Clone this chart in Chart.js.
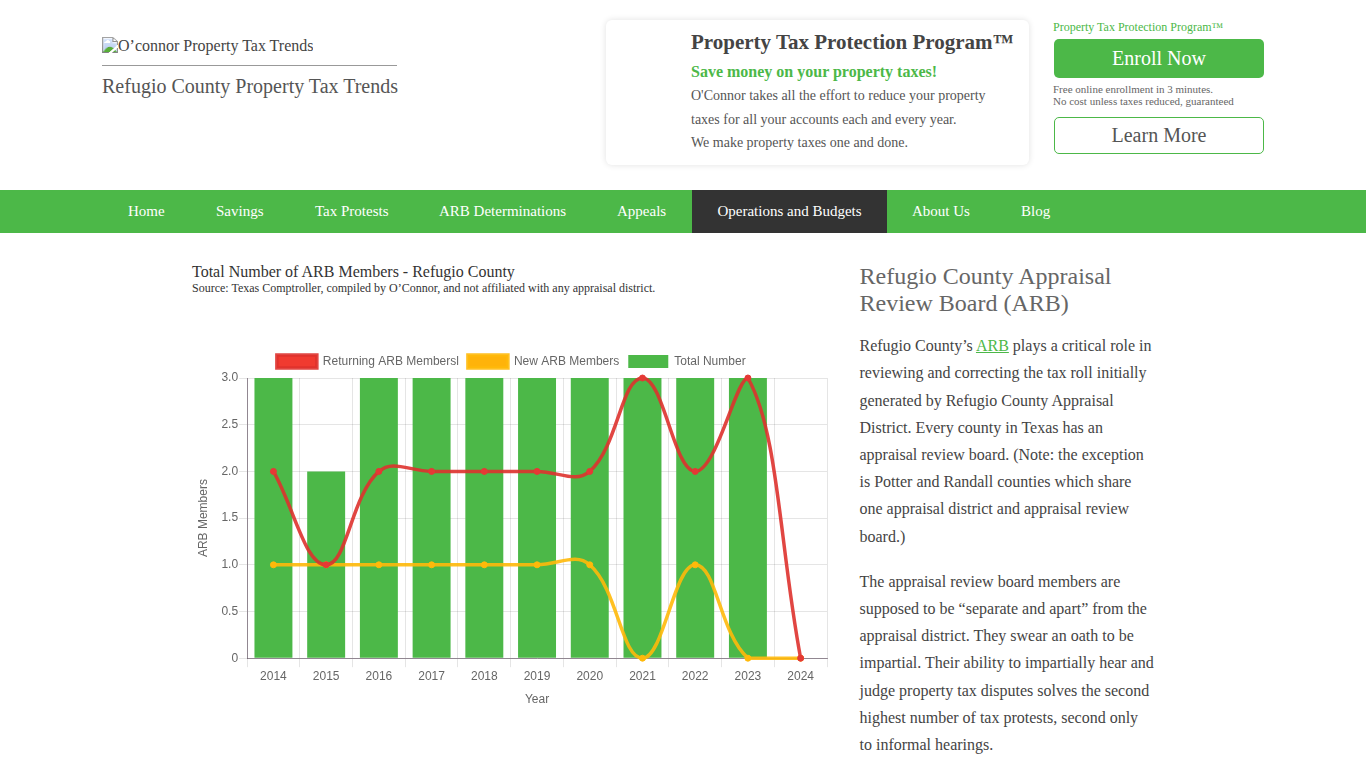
<!DOCTYPE html>
<html>
<head>
<meta charset="utf-8">
<title>Refugio County Property Tax Trends</title>
<script src="https://cdn.jsdelivr.net/npm/chart.js@4"></script>
<style>
  html, body { margin: 0; padding: 0; background: #fff; overflow: hidden; height: 768px; }
  body { font-family: "Liberation Serif", serif; color: #444; position: relative; width: 1366px; }
  .t { position: absolute; white-space: nowrap; }
  a { color: #4cb848; }
  #nav { position: absolute; left: 0; top: 190px; width: 1366px; height: 43px; background: #4cb848; }
  #nav span { position: absolute; top: 0; line-height: 43px; font-size: 15px; color: #fff; white-space: nowrap; }
  #nav .active { background: #333; left: 692px; width: 195px; text-align: center; }
  #promo { position: absolute; left: 606px; top: 20px; width: 423px; height: 145px; border-radius: 6px; box-shadow: 0 0 6px rgba(0,0,0,.12); background: #fff; }
  .btn { position: absolute; left: 1054px; width: 210px; border-radius: 5px; text-align: center; font-size: 20px; box-sizing: border-box; }
  #chartWrap { position: absolute; left: 192px; top: 345px; width: 640px; height: 366px; }
</style>
</head>
<body>
  <img class="t" style="left:102px;top:37px;font-size:16px;color:#444" src="logo.png" alt="O’connor Property Tax Trends">
  <div style="position:absolute;left:102px;top:65px;width:295px;height:1px;background:#999"></div>
  <div class="t" style="left:102px;top:75px;font-size:20px;color:#555">Refugio County Property Tax Trends</div>

  <div id="promo"></div>
  <div class="t" style="left:691px;top:30px;font-size:21px;font-weight:bold">Property Tax Protection Program™</div>
  <div class="t" style="left:691px;top:63px;font-size:16px;font-weight:bold;color:#4cb848">Save money on your property taxes!</div>
  <div class="t" style="left:691px;top:88px;font-size:14px;color:#555">O'Connor takes all the effort to reduce your property</div>
  <div class="t" style="left:691px;top:112px;font-size:14px;color:#555">taxes for all your accounts each and every year.</div>
  <div class="t" style="left:691px;top:135px;font-size:14px;color:#555">We make property taxes one and done.</div>

  <div class="t" style="left:1053px;top:20px;font-size:12px;color:#4cb848">Property Tax Protection Program™</div>
  <div class="btn" style="top:39px;height:39px;line-height:39px;background:#4cb848;color:#fff">Enroll Now</div>
  <div class="t" style="left:1053px;top:83px;font-size:11px;color:#666">Free online enrollment in 3 minutes.</div>
  <div class="t" style="left:1053px;top:95px;font-size:11px;color:#666">No cost unless taxes reduced, guaranteed</div>
  <div class="btn" style="top:117px;height:37px;line-height:35px;border:1px solid #4cb848;color:#555">Learn More</div>

  <div id="nav">
    <span style="left:128px">Home</span>
    <span style="left:216px">Savings</span>
    <span style="left:315px">Tax Protests</span>
    <span style="left:439px">ARB Determinations</span>
    <span style="left:617px">Appeals</span>
    <span class="active">Operations and Budgets</span>
    <span style="left:912px">About Us</span>
    <span style="left:1021px">Blog</span>
  </div>

  <div class="t" style="left:192px;top:263px;font-size:16px;color:#333">Total Number of ARB Members - Refugio County</div>
  <div class="t" style="left:192px;top:281px;font-size:12px;color:#333">Source: Texas Comptroller, compiled by O’Connor, and not affiliated with any appraisal district.</div>

  <div id="chartWrap"><canvas id="myChart"></canvas></div>

  <div class="t" style="left:859.5px;top:263px;font-size:24px;color:#666">Refugio County Appraisal</div>
  <div class="t" style="left:859.5px;top:290px;font-size:24px;color:#666">Review Board (ARB)</div>
  <div class="t" style="left:859.5px;top:337px;font-size:16px">Refugio County’s <a href="#">ARB</a> plays a critical role in</div>
  <div class="t" style="left:859.5px;top:364px;font-size:16px">reviewing and correcting the tax roll initially</div>
  <div class="t" style="left:859.5px;top:392px;font-size:16px">generated by Refugio County Appraisal</div>
  <div class="t" style="left:859.5px;top:419px;font-size:16px">District. Every county in Texas has an</div>
  <div class="t" style="left:859.5px;top:446px;font-size:16px">appraisal review board. (Note: the exception</div>
  <div class="t" style="left:859.5px;top:473px;font-size:16px">is Potter and Randall counties which share</div>
  <div class="t" style="left:859.5px;top:500px;font-size:16px">one appraisal district and appraisal review</div>
  <div class="t" style="left:859.5px;top:528px;font-size:16px">board.)</div>
  <div class="t" style="left:859.5px;top:573px;font-size:16px">The appraisal review board members are</div>
  <div class="t" style="left:859.5px;top:600px;font-size:16px">supposed to be “separate and apart” from the</div>
  <div class="t" style="left:859.5px;top:627px;font-size:16px">appraisal district. They swear an oath to be</div>
  <div class="t" style="left:859.5px;top:654px;font-size:16px">impartial. Their ability to impartially hear and</div>
  <div class="t" style="left:859.5px;top:682px;font-size:16px">judge property tax disputes solves the second</div>
  <div class="t" style="left:859.5px;top:709px;font-size:16px">highest number of tax protests, second only</div>
  <div class="t" style="left:859.5px;top:736px;font-size:16px">to informal hearings.</div>

<script>
const years = ['2014','2015','2016','2017','2018','2019','2020','2021','2022','2023','2024'];
const returningMembers = [2,1,2,2,2,2,2,3,2,3,0];
const newMembers = [1,1,1,1,1,1,1,0,1,0,0];
const totalMembers = [3,2,3,3,3,3,3,3,3,3,0];
const yTicks = ['0','0.5','1.0','1.5','2.0','2.5','3.0'];

Chart.defaults.font.family = '"Liberation Sans", Arial, sans-serif';
Chart.defaults.font.size = 12;
Chart.defaults.color = '#666';

new Chart(document.getElementById('myChart'), {
  type: 'bar',
  data: {
    labels: years,
    datasets: [
      { type: 'line', label: 'Returning ARB Membersl', data: returningMembers, order: 1,
        borderColor: 'rgba(222,50,45,0.9)', backgroundColor: '#f03a30', borderWidth: 3.5,
        tension: 0.4, fill: false, pointRadius: 3, pointBorderWidth: 1, pointBackgroundColor: '#e53935', pointBorderColor: '#e53935', clip: false },
      { type: 'line', label: 'New ARB Members', data: newMembers, order: 2,
        borderColor: 'rgba(255,185,10,0.9)', backgroundColor: '#ffb30a', borderWidth: 3.5,
        tension: 0.4, fill: false, pointRadius: 3, pointBorderWidth: 1, pointBackgroundColor: '#ffb90a', pointBorderColor: '#ffb90a', clip: false },
      { type: 'bar', label: 'Total Number', data: totalMembers, order: 3,
        backgroundColor: '#4cb848', borderColor: '#4cb848', barPercentage: 0.9, categoryPercentage: 0.8 }
    ]
  },
  options: {
    responsive: true,
    maintainAspectRatio: false,
    animation: false,
    layout: { padding: { top: 1, left: 2, right: 3.5 } },
    plugins: {
      legend: { position: 'top', labels: { boxWidth: 40, boxHeight: 13, padding: 9, color: '#666' } },
      tooltip: { enabled: false }
    },
    scales: {
      x: {
        title: { display: true, text: 'Year', color: '#666', padding: { top: 7, bottom: 4 } },
        grid: { color: 'rgba(0,0,0,0.1)', tickLength: 9 },
        border: { color: 'rgba(100,85,100,0.65)' },
        ticks: { color: '#666', maxRotation: 0, padding: 2 }
      },
      y: {
        min: 0, max: 3,
        title: { display: true, text: 'ARB Members', color: '#666', padding: { top: 2, bottom: 10 } },
        grid: { color: 'rgba(0,0,0,0.1)', tickLength: 8 },
        border: { color: 'rgba(100,85,100,0.65)' },
        ticks: { stepSize: 0.5, color: '#666', padding: 1, callback: (v, i) => yTicks[i] }
      }
    }
  }
});
</script>
</body>
</html>
